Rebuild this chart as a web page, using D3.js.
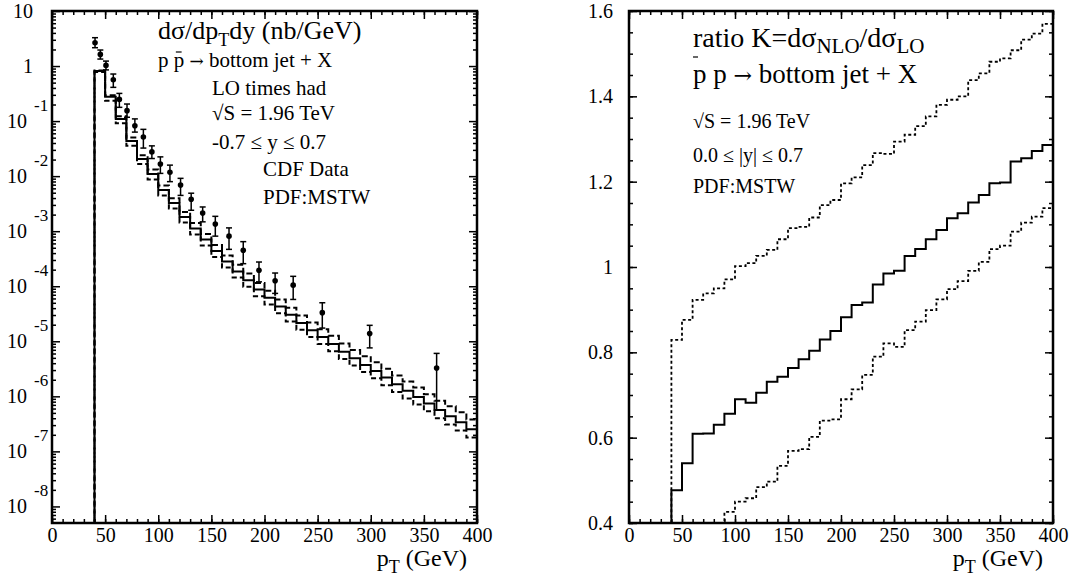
<!DOCTYPE html>
<html>
<head>
<meta charset="utf-8">
<script src="https://cdn.jsdelivr.net/npm/d3@7"></script>
<style>
  body { margin: 0; background: #fff; }
  text { font-family: "Liberation Serif", "Times New Roman", serif; fill: #000; }
</style>
</head>
<body>
<svg id="chart" width="1072" height="583"></svg>
<script>
'use strict';

// bin edges (GeV), 10 GeV bins from 40 to 400
var ptEdges = [40, 50, 60, 70, 80, 90, 100, 110, 120, 130, 140, 150, 160, 170, 180, 190, 200, 210, 220,
    230, 240, 250, 260, 270, 280, 290, 300, 310, 320, 330, 340, 350, 360, 370, 380, 390, 400];

// left: LO x had cross section, log10(nb/GeV), central and scale band
var xsCentralLog10 = [-0.09, -0.56, -0.96, -1.36, -1.69, -1.96, -2.25, -2.49, -2.74, -2.95, -3.15, -3.36,
    -3.55, -3.73, -3.89, -4.06, -4.21, -4.37, -4.52, -4.67, -4.80, -4.92, -5.05, -5.19, -5.31, -5.43,
    -5.54, -5.66, -5.78, -5.90, -6.01, -6.13, -6.25, -6.36, -6.47, -6.60];
var xsUpperLog10 = [-0.08, -0.53, -0.91, -1.30, -1.62, -1.88, -2.17, -2.40, -2.65, -2.85, -3.05, -3.25,
    -3.44, -3.61, -3.77, -3.94, -4.08, -4.24, -4.39, -4.53, -4.66, -4.78, -4.90, -5.04, -5.16, -5.27,
    -5.38, -5.50, -5.62, -5.73, -5.84, -5.96, -6.08, -6.18, -6.29, -6.42];
var xsLowerLog10 = [-0.11, -0.63, -1.04, -1.45, -1.78, -2.06, -2.35, -2.59, -2.84, -3.06, -3.26, -3.47,
    -3.66, -3.84, -4.01, -4.18, -4.33, -4.49, -4.64, -4.79, -4.92, -5.05, -5.18, -5.32, -5.44, -5.56,
    -5.67, -5.80, -5.92, -6.04, -6.15, -6.27, -6.40, -6.51, -6.62, -6.75];

// CDF data points
var cdfPt = [40.5, 45.5, 50.8, 57.7, 63.4, 70.6, 78, 86, 94, 102, 111, 121, 131, 141.8, 153.7, 166.6,
    180, 194.8, 210, 227, 254.4, 299, 362];
var cdfLog10 = [0.424, 0.212, 0.012, -0.249, -0.606, -0.81, -1.085, -1.29, -1.56, -1.78, -1.93, -2.16,
    -2.42, -2.67, -2.87, -3.09, -3.345, -3.71, -3.9, -3.98, -4.48, -4.86, -5.485];
var cdfHiLog10 = [0.515, 0.291, 0.09, -0.145, -0.497, -0.69, -0.96, -1.15, -1.45, -1.65, -1.8, -2.04,
    -2.31, -2.56, -2.73, -2.94, -3.19, -3.56, -3.76, -3.82, -4.30, -4.71, -5.22];
var cdfLoLog10 = [0.333, 0.127, -0.07, -0.387, -0.75, -0.93, -1.2, -1.49, -1.68, -1.95, -2.1, -2.35,
    -2.62, -2.83, -3.09, -3.33, -3.59, -3.92, -4.13, -4.24, -4.76, -5.12, -6.25];

// right: K factor, central and band
var kCentral = [0.477, 0.54, 0.609, 0.61, 0.63, 0.656, 0.69, 0.682, 0.705, 0.731, 0.743, 0.763, 0.784,
    0.804, 0.83, 0.85, 0.882, 0.911, 0.917, 0.959, 0.985, 0.991, 1.026, 1.042, 1.065, 1.087, 1.114,
    1.126, 1.151, 1.169, 1.196, 1.198, 1.247, 1.255, 1.272, 1.286];
var kUpper = [0.829, 0.876, 0.923, 0.938, 0.95, 0.971, 1.002, 1.009, 1.026, 1.04, 1.065, 1.091, 1.094,
    1.116, 1.145, 1.157, 1.196, 1.21, 1.239, 1.267, 1.265, 1.294, 1.31, 1.33, 1.353, 1.38, 1.392, 1.40,
    1.438, 1.454, 1.481, 1.489, 1.508, 1.533, 1.547, 1.57];
var kLower = [0.25, 0.29, 0.33, 0.36, 0.38, 0.426, 0.45, 0.458, 0.484, 0.497, 0.534, 0.569, 0.573,
    0.602, 0.64, 0.643, 0.69, 0.713, 0.747, 0.79, 0.821, 0.813, 0.852, 0.872, 0.899, 0.924, 0.948,
    0.967, 0.991, 1.012, 1.042, 1.05, 1.083, 1.104, 1.118, 1.138];

// ticks
var xMajorTicks = [0, 50, 100, 150, 200, 250, 300, 350, 400];
var logExps = [1, 0, -1, -2, -3, -4, -5, -6, -7, -8];
var kMajorTicks = [0.4, 0.6, 0.8, 1.0, 1.2, 1.4, 1.6];
var kTickLabels = ['0.4', '0.6', '0.8', '1', '1.2', '1.4', '1.6'];

var svg = d3.select('#chart');

var left = { x0: 52, x1: 477, y0: 11, y1: 523 }, right = { x0: 629, x1: 1053, y0: 11, y1: 523 };

var xL = d3.scaleLinear().domain([0, 400]).range([left.x0, left.x1]);
var yL = d3.scaleLog().domain([5e-9, 10]).range([left.y1, left.y0]);
var xR = d3.scaleLinear().domain([0, 400]).range([right.x0, right.x1]);
var yR = d3.scaleLinear().domain([0.4, 1.6]).range([right.y1, right.y0]);

var pow10 = function (v) { return Math.pow(10, v); };
var xMinorTicks = d3.range(0, 401, 10);
var logMinorTicks = [];
d3.range(-9, 1).forEach(function (k) {
    d3.range(2, 10).forEach(function (m) {
        var v = m * Math.pow(10, k);
        if (v > 5e-9 && v < 10) logMinorTicks.push(v);
    });
});
var kMinorTicks = d3.range(8, 33).map(function (i) { return i * 0.05; });

// clip paths
var defs = svg.append('defs');
[['clipL', left], ['clipR', right]].forEach(function (c) {
    defs.append('clipPath').attr('id', c[0]).append('rect')
        .attr('x', c[1].x0).attr('y', c[1].y0)
        .attr('width', c[1].x1 - c[1].x0).attr('height', c[1].y1 - c[1].y0);
});

function stepPoints(vals, start) {
    var pts = [[ptEdges[0], start]];
    vals.forEach(function (v, i) { pts.push([ptEdges[i], v]); });
    pts.push([ptEdges[ptEdges.length - 1], vals[vals.length - 1]]);
    return pts;
}

function addAxis(axis, tx, ty) {
    var a = svg.append('g').attr('transform', 'translate(' + tx + ',' + ty + ')').call(axis);
    a.select('.domain').remove();
    a.attr('font-family', null).attr('font-size', 20);
    a.selectAll('line').attr('stroke-width', 1.5);
    return a;
}

function xAxes(x, p) {
    addAxis(d3.axisBottom(x).tickValues(xMajorTicks).tickSize(-8).tickPadding(5).tickFormat(d3.format('d')), 0, p.y1);
    addAxis(d3.axisBottom(x).tickValues(xMinorTicks).tickSize(-4).tickFormat(''), 0, p.y1);
    addAxis(d3.axisTop(x).tickValues(xMajorTicks).tickSize(-8).tickFormat(''), 0, p.y0);
    addAxis(d3.axisTop(x).tickValues(xMinorTicks).tickSize(-4).tickFormat(''), 0, p.y0);
}

// ---------- left panel ----------
var lineL = d3.line()
    .x(function (d) { return xL(d[0]); })
    .y(function (d) { return yL(pow10(d[1])); })
    .curve(d3.curveStepAfter);

var gL = svg.append('g').attr('clip-path', 'url(#clipL)');
[[xsUpperLog10, '6,3'], [xsLowerLog10, '5,3'], [xsCentralLog10, null]].forEach(function (s) {
    gL.append('path').attr('d', lineL(stepPoints(s[0], -9)))
        .attr('fill', 'none').attr('stroke', '#000').attr('stroke-width', 2)
        .attr('stroke-dasharray', s[1]);
});

var pts = gL.selectAll('g.cdf').data(cdfPt).enter().append('g').attr('class', 'cdf');
pts.append('line')
    .attr('x1', function (d) { return xL(d); }).attr('x2', function (d) { return xL(d); })
    .attr('y1', function (d, i) { return yL(pow10(cdfHiLog10[i])); })
    .attr('y2', function (d, i) { return yL(pow10(cdfLoLog10[i])); })
    .attr('stroke', '#000').attr('stroke-width', 1.5);
[cdfHiLog10, cdfLoLog10].forEach(function (arr) {
    pts.append('line')
        .attr('x1', function (d) { return xL(d) - 3; }).attr('x2', function (d) { return xL(d) + 3; })
        .attr('y1', function (d, i) { return yL(pow10(arr[i])); })
        .attr('y2', function (d, i) { return yL(pow10(arr[i])); })
        .attr('stroke', '#000').attr('stroke-width', 1.5);
});
pts.append('circle')
    .attr('cx', function (d) { return xL(d); })
    .attr('cy', function (d, i) { return yL(pow10(cdfLog10[i])); })
    .attr('r', 2.8).attr('fill', '#000');

xAxes(xL, left);
addAxis(d3.axisLeft(yL).tickValues(logExps.map(pow10)).tickSize(-8).tickFormat(''), left.x0, 0);
addAxis(d3.axisLeft(yL).tickValues(logMinorTicks).tickSize(-4).tickFormat(''), left.x0, 0);
addAxis(d3.axisRight(yL).tickValues(logExps.map(pow10)).tickSize(-8).tickFormat(''), left.x1, 0);
addAxis(d3.axisRight(yL).tickValues(logMinorTicks).tickSize(-4).tickFormat(''), left.x1, 0);

// log labels: 10, 1, 10^-k
logExps.forEach(function (k) {
    var ty = yL(pow10(k));
    if (k >= 0) {
        svg.append('text').attr('x', 33).attr('y', ty + 7).attr('text-anchor', 'end')
            .attr('font-size', 20).text(k === 1 ? '10' : '1');
    } else {
        svg.append('text').attr('x', 27).attr('y', ty + 7).attr('text-anchor', 'end')
            .attr('font-size', 20).text('10');
        svg.append('text').attr('x', 34).attr('y', ty - 10).attr('font-size', 17).text('-' + (-k));
    }
});

// ---------- right panel ----------
var lineR = d3.line()
    .x(function (d) { return xR(d[0]); })
    .y(function (d) { return yR(d[1]); })
    .curve(d3.curveStepAfter);

var gR = svg.append('g').attr('clip-path', 'url(#clipR)');
[[kUpper, '3,2.5'], [kLower, '3,2.5'], [kCentral, null]].forEach(function (s) {
    gR.append('path').attr('d', lineR(stepPoints(s[0], 0)))
        .attr('fill', 'none').attr('stroke', '#000').attr('stroke-width', s[1] ? 1.8 : 2)
        .attr('stroke-dasharray', s[1]);
});

xAxes(xR, right);
addAxis(d3.axisLeft(yR).tickValues(kMajorTicks).tickSize(-8).tickPadding(16)
    .tickFormat(function (d, i) { return kTickLabels[i]; }), right.x0, 0);
addAxis(d3.axisLeft(yR).tickValues(kMinorTicks).tickSize(-4).tickFormat(''), right.x0, 0);
addAxis(d3.axisRight(yR).tickValues(kMajorTicks).tickSize(-8).tickFormat(''), right.x1, 0);
addAxis(d3.axisRight(yR).tickValues(kMinorTicks).tickSize(-4).tickFormat(''), right.x1, 0);

// frames
[left, right].forEach(function (p) {
    svg.append('rect').attr('x', p.x0).attr('y', p.y0)
        .attr('width', p.x1 - p.x0).attr('height', p.y1 - p.y0)
        .attr('fill', 'none').attr('stroke', '#000').attr('stroke-width', 2.5);
});

// ---------- texts ----------
// parts: {t, sub (baseline shift), size, font}
function subText(x, y, size, parts, anchor) {
    var t = svg.append('text').attr('x', x).attr('y', y).attr('font-size', size)
        .attr('text-anchor', anchor || 'start');
    var shift = 0;
    parts.forEach(function (p) {
        var dy = (p.sub || 0) - shift;
        shift = p.sub || 0;
        var ts = t.append('tspan').attr('dy', dy).attr('font-size', p.size || size).text(p.t);
        if (p.font) ts.style('font-family', p.font);
    });
    return t;
}

function barOverChar(textSel, idx, y) {
    var e = textSel.node().getExtentOfChar(idx);
    svg.append('line').attr('x1', e.x + e.width * 0.2).attr('x2', e.x + e.width * 0.75)
        .attr('y1', y).attr('y2', y).attr('stroke', '#000').attr('stroke-width', 1.2);
}

// left annotations
subText(158, 39, 26, [{ t: 'd\u03c3/dp' }, { t: 'T', sub: 7, size: 18 }, { t: 'dy (nb/GeV)' }]);
var ppL = subText(158, 67, 21, [{ t: 'p p ' }, { t: '\u2192', size: 17, font: '"DejaVu Serif"' },
    { t: ' bottom jet + X' }]);
barOverChar(ppL, 2, 52);
svg.append('text').attr('x', 212).attr('y', 95).attr('font-size', 21).text('LO times had');
svg.append('text').attr('x', 212).attr('y', 120).attr('font-size', 21).text('\u221aS = 1.96 TeV');
svg.append('text').attr('x', 212).attr('y', 149).attr('font-size', 21).text('-0.7 \u2264 y \u2264 0.7');
svg.append('text').attr('x', 263).attr('y', 176).attr('font-size', 21).text('CDF Data');
svg.append('text').attr('x', 263).attr('y', 204).attr('font-size', 21).text('PDF:MSTW');

// right annotations
subText(693, 47, 28, [{ t: 'ratio K=d\u03c3' }, { t: 'NLO', sub: 6, size: 21 }, { t: '/d\u03c3' },
    { t: 'LO', sub: 6, size: 21 }]);
svg.append('line').attr('x1', 693).attr('x2', 698).attr('y1', 57).attr('y2', 57)
    .attr('stroke', '#000').attr('stroke-width', 1.2);
subText(693, 83, 27, [{ t: 'p p ' }, { t: '\u2192', size: 22, font: '"DejaVu Serif"' },
    { t: ' bottom jet + X' }]);
svg.append('text').attr('x', 693).attr('y', 128).attr('font-size', 20).text('\u221aS = 1.96 TeV');
svg.append('text').attr('x', 693).attr('y', 162).attr('font-size', 20).text('0.0 \u2264 |y| \u2264 0.7');
svg.append('text').attr('x', 693).attr('y', 193).attr('font-size', 20).text('PDF:MSTW');

// axis titles
[467, 1043].forEach(function (xe) {
    subText(xe, 566, 24, [{ t: 'p' }, { t: 'T', sub: 7, size: 18 }, { t: ' (GeV)' }], 'end');
});
</script>
</body>
</html>
